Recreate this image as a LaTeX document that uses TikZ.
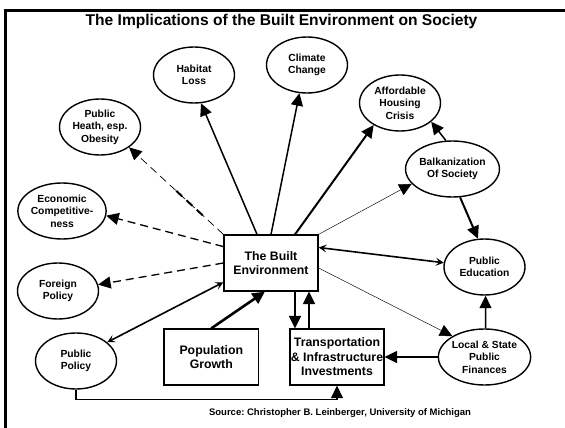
\documentclass[tikz,border=0pt]{standalone}
\usepackage{fontspec}
\setmainfont{Liberation Sans}
\frenchspacing
\usetikzlibrary{arrows.meta,calc,shapes.geometric}
\tikzset{
  x=1pt,y=-1pt,
  every node/.style={font=\bfseries},
  oval/.style={draw,ellipse,line width=1.4pt,minimum width=81pt,minimum height=56pt,inner sep=0pt,align=center,font=\fontsize{10.3}{12.6}\bfseries\selectfont},
  box/.style={draw,rectangle,line width=1.3pt,inner sep=0pt,align=center,font=\fontsize{12.3}{14.4}\bfseries\selectfont},
  tip/.style={-{Triangle[length=12.5pt,width=12pt]}},
  barbs/.style={{Stealth[length=8pt,width=8pt,inset=3.5pt]}-{Stealth[length=8pt,width=8pt,inset=3.5pt]},line width=1.6pt},
  conn/.style={tip,line width=1.5pt},
  heavy/.style={tip,line width=2pt},
  hair/.style={tip,line width=0.45pt},
  dashconn/.style={tip,line width=1.3pt,dash pattern=on 8pt off 5pt},
}
\begin{document}
\begin{tikzpicture}
\useasboundingbox (0,0) rectangle (565,428);
\fill[white] (0,0) rectangle (565,428);
\draw[line width=2.6pt] (5.5,428) -- (5.5,10.8) -- (565,10.8);

\node[font=\fontsize{15.6}{18}\bfseries\selectfont] (title) at (281.5,21.5) {The Implications of the Built Environment on Society};
\node[font=\fontsize{9.5}{11}\bfseries\selectfont] (src) at (340,413.5) {Source: Christopher B. Leinberger, University of Michigan};

\node[oval] (hab) at (194,75) {Habitat\\Loss};
\node[oval] (cli) at (307,65) {Climate\\Change};
\node[oval] (aff) at (400,103) {Affordable\\Housing\\Crisis};
\node[oval] (phe) at (100,127) {Public\\Heath, esp.\\Obesity};
\node[oval] (bal) at (452.5,169) {Balkanization\\Of Society};
\node[oval] (eco) at (62,211) {Economic\\Competitive-\\ness};
\node[oval] (pe) at (484.5,267) {Public\\Education};
\node[oval] (for) at (58,291) {Foreign\\Policy};
\node[oval] (pol) at (76,361) {Public\\Policy};
\node[oval] (loc) at (484.5,357) {Local \& State\\Public\\Finances};

\node[box,minimum width=94pt,minimum height=56pt] (blt) at (271,263) {The Built\\Environment};
\node[box,minimum width=94.5pt,minimum height=56pt] (pop) at (211.3,357) {Population\\Growth};
\node[box,minimum width=94pt,minimum height=56pt] (tra) at (337,357) {Transportation\\\& Infrastructure\\Investments};

\draw[conn] (blt.116) -- (hab.-76);
\draw[conn] (blt.north) -- (cli.-105);
\draw[heavy] (blt.50) -- (aff.220);
\draw[hair] (blt.north east) -- (bal.200);
\draw[conn] (bal.103) -- (aff.-31);
\draw[heavy] (bal.-75) -- (pe.103);
\draw[barbs] (blt.18) -- (pe.174);
\draw[hair] (blt.-6) -- (loc.147);
\draw[conn] (loc.88) -- (pe.-88);
\draw[conn] (loc.west) -- (tra.east);
\draw[conn] ($(blt.south)+(24,0)$) -- ($(tra.north)+(-42,0)$);
\draw[conn] ($(tra.north)+(-28,0)$) -- ($(blt.south)+(38,0)$);
\draw[tip,line width=2.6pt] (pop.north) -- (blt.258);
\draw[barbs] (pol.31) -- (blt.202);
\draw[tip,line width=1.2pt] (pol.south) -- ++(0,10) -| (tra.south);
\draw[dashconn] (blt.west) -- (for.9);
\draw[dashconn] (blt.161) -- (eco.-6);
\draw[tip,line width=0.7pt,dash pattern=on 8pt off 5pt] (blt.north west) -- (phe.-35);
\draw[line width=2pt,dash pattern=on 8pt off 6pt] ($(blt.north west)!.22!(phe.-35)$) -- ($(blt.north west)!.5!(phe.-35)$);
\end{tikzpicture}
\end{document}
